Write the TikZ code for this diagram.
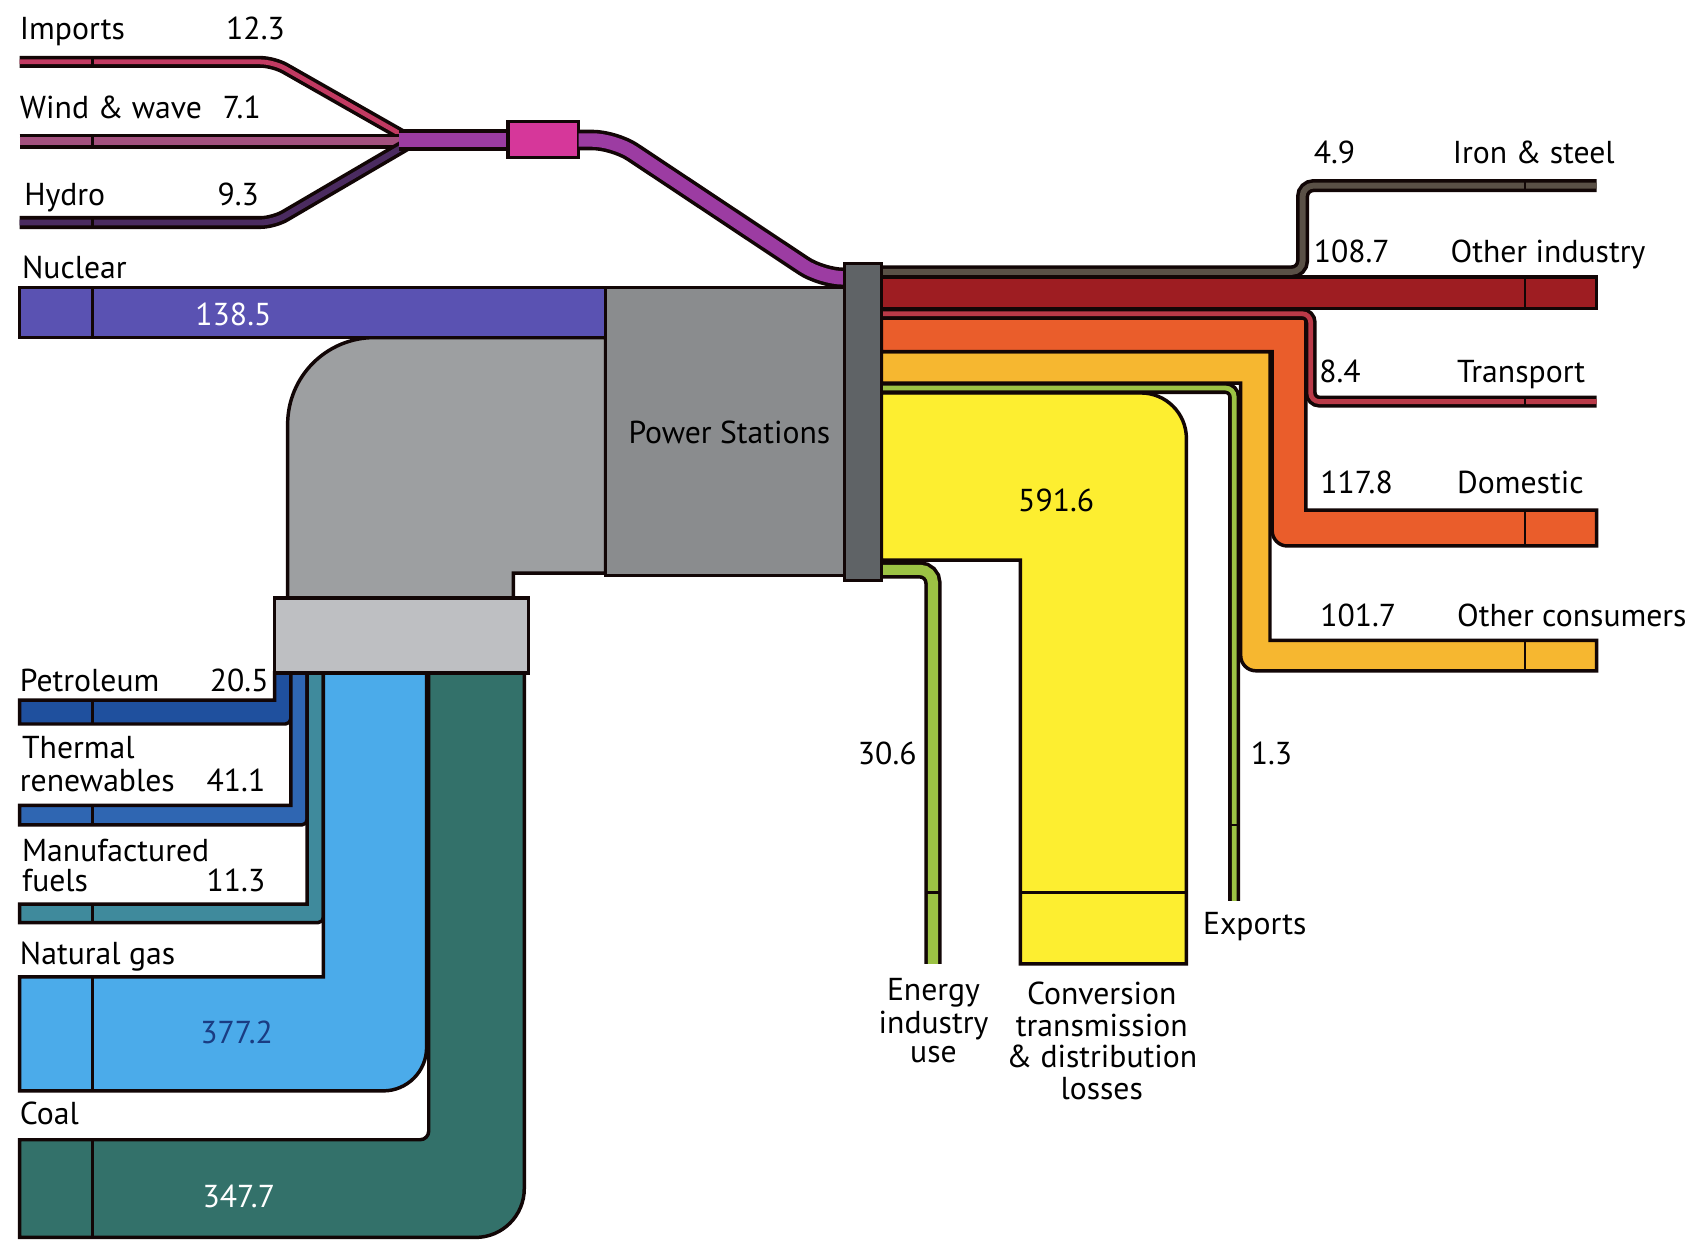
\documentclass[tikz,border=0pt]{standalone}
\usepackage{fontspec}
\setmainfont{PT Sans}
\definecolor{outl}{HTML}{120606}
\definecolor{cimp}{HTML}{C23A62}
\definecolor{cwind}{HTML}{A4507E}
\definecolor{chyd}{HTML}{4B2B60}
\definecolor{cpurp}{HTML}{9C3CA2}
\definecolor{cpink}{HTML}{D6379A}
\definecolor{cnuc}{HTML}{5A52B2}
\definecolor{celb}{HTML}{9D9FA1}
\definecolor{ccon}{HTML}{BEBFC2}
\definecolor{cps}{HTML}{8A8C8E}
\definecolor{cbar}{HTML}{5F6366}
\definecolor{cpet}{HTML}{1F509E}
\definecolor{cthr}{HTML}{2F66B2}
\definecolor{cman}{HTML}{3F8A9C}
\definecolor{cgas}{HTML}{4BABEA}
\definecolor{ccoal}{HTML}{33716A}
\definecolor{ciron}{HTML}{5A5046}
\definecolor{coind}{HTML}{9E1D22}
\definecolor{ctrn}{HTML}{BA3A48}
\definecolor{cdom}{HTML}{EA5D2B}
\definecolor{coth}{HTML}{F6B730}
\definecolor{cexp}{HTML}{9CC244}
\definecolor{cyel}{HTML}{FDEE30}
\definecolor{cgtxt}{HTML}{1A3C82}
\newcommand\sband[4]{%
  \draw[line width=#1pt,draw=outl,rounded corners=#3pt] #4;
  \draw[line width=\the\dimexpr#1pt-3.3pt\relax,draw=#2,rounded corners=#3pt] #4;}
\begin{document}
\begin{tikzpicture}[x=0.5pt,y=-0.5pt,
  ol/.style={draw=outl, line width=1.6pt},
  lbl/.style={anchor=base west, inner sep=0pt, font=\fontsize{14.6}{16}\selectfont},
  clbl/.style={anchor=base, inner sep=0pt, font=\fontsize{14.6}{16}\selectfont},
  div/.style={draw=outl, line width=1.2pt}]
\path[use as bounding box, fill=white] (0,0) rectangle (1568,1143);

% elbow from fuel combiner to power stations
\path[ol, fill=celb] (265,551) -- (265,391) .. controls (265,346.8) and (300.8,311) .. (345,311) -- (558,311) -- (558,528) -- (473,528) -- (473,551) -- cycle;

% fuel bands (bottom left)
\path[ol, fill=cpet] (253,620) -- (253,645) -- (18,645) -- (18,667) -- (263,667) .. controls (265.8,667) and (268,664.8) .. (268,662) -- (268,620) -- cycle;
\path[ol, fill=cthr] (268,620) -- (268,742) -- (18,742) -- (18,760) -- (278,760) .. controls (280.8,760) and (283,757.8) .. (283,755) -- (283,620) -- cycle;
\path[ol, fill=cman] (283,620) -- (283,833) -- (18,833) -- (18,850) -- (293,850) .. controls (295.8,850) and (298,847.8) .. (298,845) -- (298,620) -- cycle;
\path[ol, fill=cgas] (298,620) -- (298,900) -- (18,900) -- (18,1005) -- (353,1005) .. controls (375.1,1005) and (393,987.1) .. (393,965) -- (393,620) -- cycle;
\path[ol, fill=ccoal] (395,620) -- (395,1042) .. controls (395,1046.4) and (391.4,1050) .. (387,1050) -- (18,1050) -- (18,1140) -- (438,1140) .. controls (462.9,1140) and (483,1119.9) .. (483,1095) -- (483,620) -- cycle;

% combiner box
\path[ol, fill=ccon] (253,551) rectangle (487,620);

% top-left thin bands
\sband{5.5}{cimp}{6}{(18,57) -- (252,57) -- (375,127)}
\sband{7}{cwind}{6}{(18,130) -- (375,130)}
\sband{6}{chyd}{6}{(18,205) -- (252,205) -- (375,133)}
\sband{10}{cpurp}{5}{(368,129) -- (470,129)}
\path[ol, fill=cpink] (468,112) rectangle (533,145);
\sband{9.5}{cpurp}{10}{(533,129) -- (566,129) -- (757,256) -- (779,256)}

% nuclear and power stations
\path[ol, fill=cnuc] (18,265) rectangle (558,311);
\path[ol, fill=cps] (558,265) rectangle (778,530);

% outputs
\path[ol, fill=cyel] (812,362) -- (1051,362) .. controls (1074.2,362) and (1093,380.8) .. (1093,404) -- (1093,888) -- (940,888) -- (940,516) -- (812,516) -- cycle;
\sband{8}{cexp}{6}{(812,525) -- (859.5,525) -- (859.5,888)}
\sband{5.5}{cexp}{4}{(812,357.5) -- (1137,357.5) -- (1137,830)}
\path[ol, fill=coth] (812,324) -- (1170,324) -- (1170,590) -- (1471,590) -- (1471,618) -- (1157,618) .. controls (1149.3,618) and (1143,611.7) .. (1143,604) -- (1143,353) -- (812,353) -- cycle;
\path[ol, fill=cdom] (812,293) -- (1203,293) -- (1203,470) -- (1471,470) -- (1471,503) -- (1186,503) .. controls (1178.3,503) and (1172,496.7) .. (1172,489) -- (1172,324) -- (812,324) -- cycle;
\sband{5.5}{ctrn}{4}{(812,289) -- (1207.5,289) -- (1207.5,370) -- (1471,370)}
\path[ol, fill=coind] (812,255) rectangle (1471,284);
\sband{6}{ciron}{5}{(812,250.5) -- (1200,250.5) -- (1200,171) -- (1471,171)}

% distribution bar
\path[ol, fill=cbar] (778,243) rectangle (812,535);

% dividers
\foreach \a/\b in {52/62,124/136,200/210,265/311,645/667,742/760,833/850,900/1005,1050/1140}
  \draw[div] (85,\a) -- (85,\b);
\foreach \a/\b in {166/176,255/284,365/375,470/503,590/618}
  \draw[div] (1405,\a) -- (1405,\b);
\draw[div] (852,822) -- (867,822);
\draw[div] (940,822) -- (1093,822);
\draw[div] (1132,760) -- (1142,760);

% labels
\node[lbl] (timp) at (18,36) {Imports};
\node[lbl] (vimp) at (208,36) {12.3};
\node[lbl] (twind) at (18,109) {Wind \& wave};
\node[lbl] (vwind) at (205,109) {7.1};
\node[lbl] (thyd) at (22,189) {Hydro};
\node[lbl] (vhyd) at (200,189) {9.3};
\node[lbl] (tnuc) at (20,257) {Nuclear};
\node[clbl, text=white] (vnuc) at (215,300) {138.5};
\node[lbl] (tpet) at (18,637) {Petroleum};
\node[lbl] (vpet) at (193,637) {20.5};
\node[lbl] (tthr1) at (20,699) {Thermal};
\node[lbl] (tthr2) at (18,729) {renewables};
\node[lbl] (vthr) at (190,729) {41.1};
\node[lbl] (tman1) at (20,794) {Manufactured};
\node[lbl] (tman2) at (20,821) {fuels};
\node[lbl] (vman) at (190,821) {11.3};
\node[lbl] (tgas) at (18,889) {Natural gas};
\node[clbl, text=cgtxt] (vgas) at (218,961) {377.2};
\node[lbl] (tcoal) at (18,1036) {Coal};
\node[clbl, text=white] (vcoal) at (220,1112) {347.7};
\node[clbl] (tps) at (672,409) {Power Stations};
\node[clbl] (vloss) at (973,471) {591.6};
\node[lbl] (veiu) at (790,704) {30.6};
\node[lbl] (vexp) at (1152,704) {1.3};
\node[lbl] (texp) at (1108,861) {Exports};
\node[lbl] (viron) at (1210,151) {4.9};
\node[lbl] (tiron) at (1338,151) {Iron \& steel};
\node[lbl] (voind) at (1210,242) {108.7};
\node[lbl] (toind) at (1336,242) {Other industry};
\node[lbl] (vtrn) at (1215,352) {8.4};
\node[lbl] (ttrn) at (1342,352) {Transport};
\node[lbl] (vdom) at (1216,455) {117.8};
\node[lbl] (tdom) at (1342,455) {Domestic};
\node[lbl] (voth) at (1216,577) {101.7};
\node[lbl] (toth) at (1342,577) {Other consumers};
\node[clbl] (teiu1) at (860,922) {Energy};
\node[clbl] (teiu2) at (860,952) {industry};
\node[clbl] (teiu3) at (860,979) {use};
\node[clbl] (tloss1) at (1015,925) {Conversion};
\node[clbl] (tloss2) at (1015,955) {transmission};
\node[clbl] (tloss3) at (1015,983) {\& distribution};
\node[clbl] (tloss4) at (1015,1013) {losses};
\end{tikzpicture}
\end{document}
